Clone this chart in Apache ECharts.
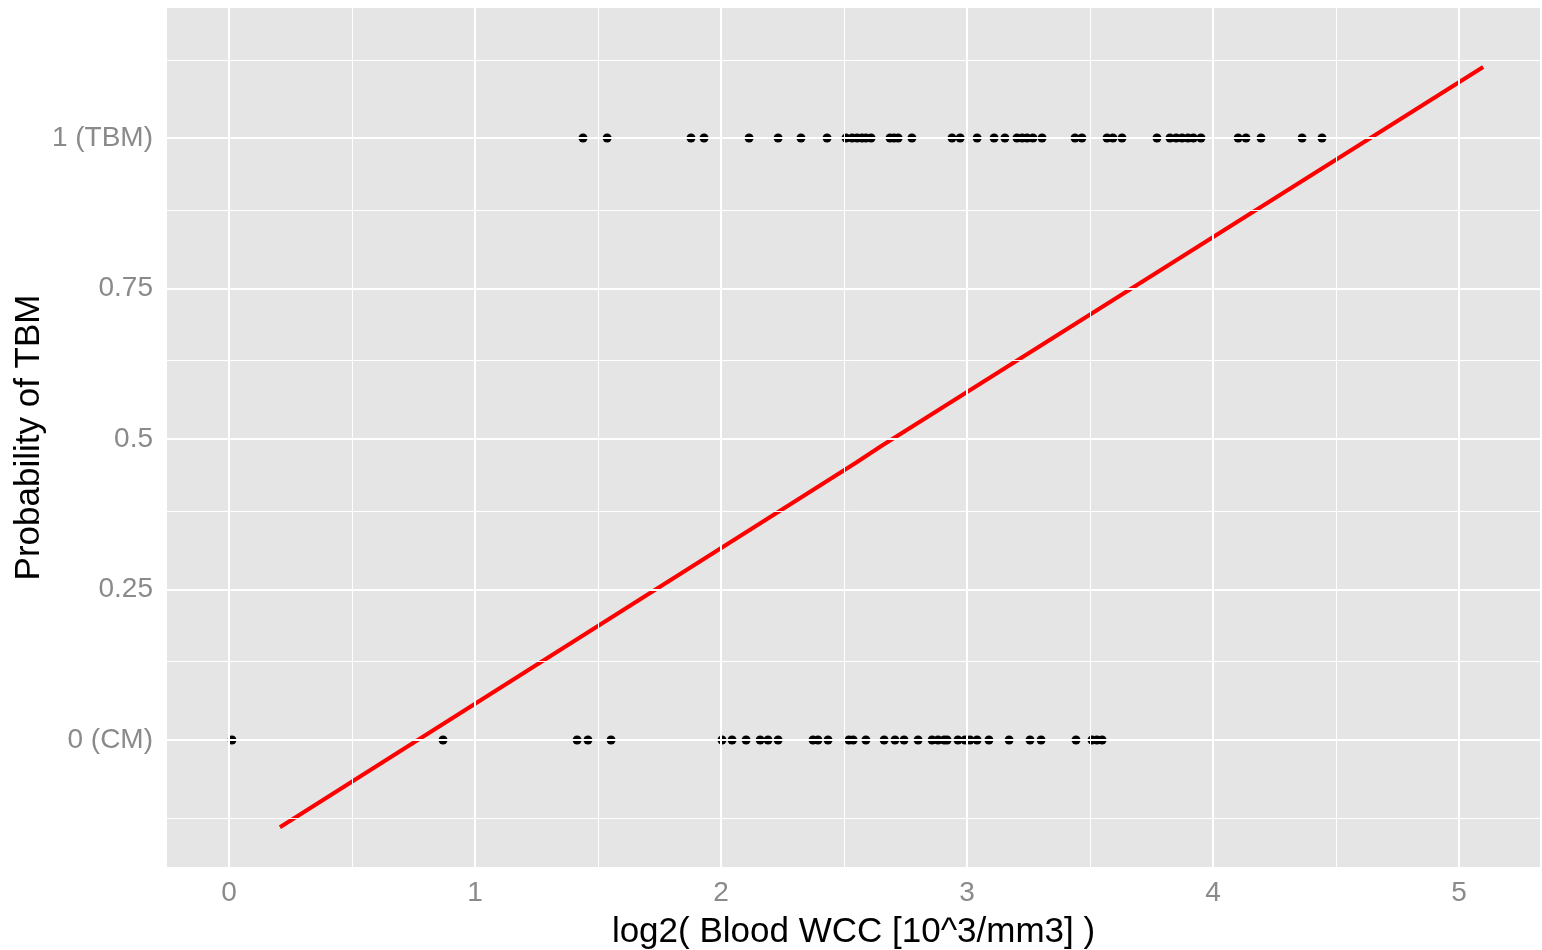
<!DOCTYPE html>
<html>
<head>
<meta charset="utf-8">
<title>Probability of TBM</title>
<script src="https://cdn.jsdelivr.net/npm/echarts@6/dist/echarts.min.js"></script>
<style>
  html, body { margin: 0; padding: 0; background: #fff; }
  #chart { width: 1542px; height: 950px; }
</style>
</head>
<body>
<div id="chart"></div>
<script>
// x values of the points (log2 blood WCC)
var tbmX = [1.439, 1.537, 1.878, 1.931, 2.114, 2.232, 2.325, 2.431, 2.508, 2.533, 2.553, 2.573, 2.589, 2.610,
  2.687, 2.703, 2.720, 2.776, 2.939, 2.972, 3.041, 3.110, 3.154, 3.203, 3.224, 3.244, 3.268, 3.305,
  3.439, 3.467, 3.569, 3.593, 3.630, 3.772, 3.825, 3.850, 3.874, 3.898, 3.920, 3.951, 4.102, 4.134,
  4.195, 4.362, 4.443];
var cmX = [0.012, 0.870, 1.415, 1.459, 1.553, 2.004, 2.045, 2.102, 2.159, 2.191, 2.232, 2.374, 2.394, 2.435,
  2.520, 2.537, 2.589, 2.663, 2.707, 2.744, 2.801, 2.858, 2.882, 2.907, 2.919, 2.963, 2.992, 3.012,
  3.041, 3.089, 3.171, 3.256, 3.301, 3.443, 3.508, 3.528, 3.549];
// fitted line
var fitX = [0.207, 2.55, 2.65, 5.098];
var fitY = [-0.145, 0.461, 0.488, 1.118];
// ticks / grid
var xTicks = [0, 1, 2, 3, 4, 5];
var xMinor = [0.5, 1.5, 2.5, 3.5, 4.5];
var yTicks = [0, 0.25, 0.5, 0.75, 1];
var yMinor = [-0.125, 0.125, 0.375, 0.625, 0.875, 1.125];
var yTickLabels = { 0: '0 (CM)', 0.25: '0.25', 0.5: '0.5', 0.75: '0.75', 1: '1 (TBM)' };

var font = '"Liberation Sans", Arial, sans-serif';
var chart = echarts.init(document.getElementById('chart'));

// grid lines drawn as markLines (axis min is not a multiple of the tick step)
function gridLines(vals, key, width) {
  return vals.map(function (v) {
    var o = { lineStyle: { width: width } };
    o[key] = v;
    return o;
  });
}

var option = {
  animation: false,
  grid: {
    left: 167, right: 2, top: 8, bottom: 83,
    outerBoundsMode: 'none',
    containLabel: false,
    show: true, backgroundColor: '#e5e5e5', borderWidth: 0
  },
  xAxis: {
    type: 'value',
    min: -0.252, max: 5.329,
    name: 'log2( Blood WCC [10^3/mm3] )',
    nameLocation: 'middle',
    nameGap: 48,
    nameTextStyle: { color: '#000', fontSize: 35, fontFamily: font },
    axisLine: { show: false },
    axisTick: { show: true, length: 6, customValues: xTicks, lineStyle: { color: '#7f7f7f', width: 2 } },
    axisLabel: { customValues: xTicks, margin: 12, color: '#8a8a8a', fontSize: 28, fontFamily: font },
    splitLine: { show: false }
  },
  yAxis: {
    type: 'value',
    min: -0.211, max: 1.216,
    name: 'Probability of TBM',
    nameLocation: 'middle',
    nameGap: 120,
    nameRotate: 90,
    nameMoveOverlap: false,
    nameTextStyle: { color: '#000', fontSize: 35, fontFamily: font },
    axisLine: { show: false },
    axisTick: { show: true, length: 6, customValues: yTicks, lineStyle: { color: '#7f7f7f', width: 2 } },
    axisLabel: {
      customValues: yTicks, margin: 14, color: '#8a8a8a', fontSize: 28, fontFamily: font,
      formatter: function (v) { return yTickLabels[v] !== undefined ? yTickLabels[v] : ''; }
    },
    splitLine: { show: false }
  },
  series: [
    {
      // grid lines only
      type: 'line',
      data: [],
      z: 1,
      silent: true,
      markLine: {
        silent: true,
        symbol: ['none', 'none'],
        label: { show: false },
        lineStyle: { color: '#ffffff', type: 'solid' },
        data: gridLines(xMinor, 'xAxis', 1).concat(gridLines(yMinor, 'yAxis', 1))
          .concat(gridLines(xTicks, 'xAxis', 2)).concat(gridLines(yTicks, 'yAxis', 2))
      }
    },
    {
      name: 'TBM',
      type: 'scatter',
      symbolSize: 9,
      itemStyle: { color: '#000', opacity: 1 },
      data: tbmX.map(function (x) { return [x, 1]; })
    },
    {
      name: 'CM',
      type: 'scatter',
      symbolSize: 9,
      itemStyle: { color: '#000', opacity: 1 },
      data: cmX.map(function (x) { return [x, 0]; })
    },
    {
      name: 'fit',
      type: 'line',
      showSymbol: false,
      z: 3,
      lineStyle: { color: '#ff0000', width: 4 },
      data: fitX.map(function (x, i) { return [x, fitY[i]]; })
    }
  ]
};
chart.setOption(option);
</script>
</body>
</html>
